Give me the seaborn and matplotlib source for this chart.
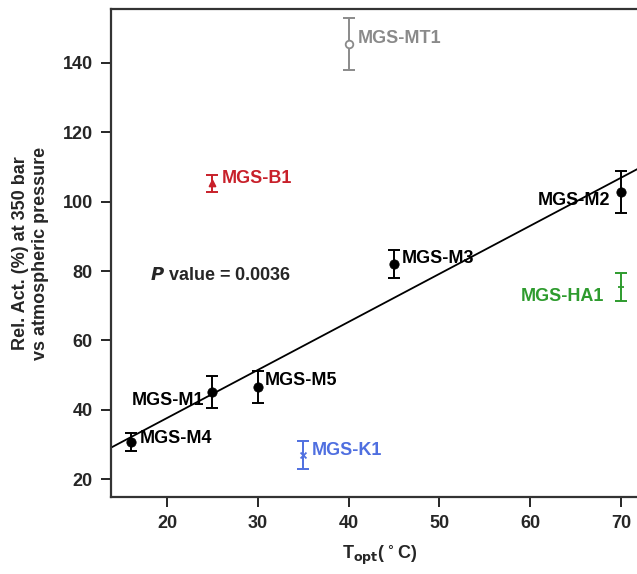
import numpy as np
import pandas as pd
import matplotlib
matplotlib.use("Agg")
import matplotlib.pyplot as plt
import seaborn as sns

# MGS enzymes: optimum temperature vs relative activity at 350 bar
names = ["MGS-M4", "MGS-M1", "MGS-M5", "MGS-M3", "MGS-M2",
         "MGS-MT1", "MGS-B1", "MGS-K1", "MGS-HA1"]
t_opt = [16, 25, 30, 45, 70, 40, 25, 35, 70]
rel_act = [30.7, 45.2, 46.6, 82.0, 102.8, 145.5, 105.3, 27.0, 75.5]
err = [2.6, 4.7, 4.6, 4.0, 6.0, 7.5, 2.5, 4.0, 4.0]
groups = ["M", "M", "M", "M", "M", "MT1", "B1", "K1", "HA1"]
p_value = "0.0036"

colors = {"M": "black", "MT1": "#8a8a8a", "B1": "#c8202a",
          "K1": "#4f6fe0", "HA1": "#2e9b2e"}
markers = {"M": "o", "MT1": "o", "B1": "^", "K1": "x", "HA1": "+"}

df = pd.DataFrame({"name": names, "t": t_opt, "act": rel_act,
                   "err": err, "grp": groups})

sns.set_style("ticks")
plt.rcParams["font.family"] = ["Liberation Sans", "DejaVu Sans"]
plt.rcParams["font.weight"] = "bold"

fig = plt.figure(figsize=(6.37, 5.74), dpi=100)
# plot box runs past the right edge of the image, as in the original crop
ax = fig.add_axes([0.1738, 0.1336, 0.845, 0.850])
ax.set_xlim(13.8, 73.1)
ax.set_ylim(14.8, 155.4)

# regression over the M series only
m = df[df.grp == "M"]
sns.regplot(data=m, x="t", y="act", ci=None, truncate=False, scatter=False,
            line_kws={"color": "black", "lw": 1.3}, ax=ax)

for g, sub in df.groupby("grp"):
    ax.errorbar(sub.t, sub.act, yerr=sub.err, fmt="none",
                ecolor=colors[g], elinewidth=1.4, capsize=4, capthick=1.4)

sns.scatterplot(data=df[df.grp == "M"], x="t", y="act", color="black",
                marker="o", s=45, edgecolor="black", ax=ax, zorder=5)
sns.scatterplot(data=df[df.grp == "MT1"], x="t", y="act", marker="o", s=30,
                facecolor="white", edgecolor=colors["MT1"], linewidth=1.3,
                ax=ax, zorder=5)
for g in ["B1", "K1", "HA1"]:
    sns.scatterplot(data=df[df.grp == g], x="t", y="act", marker=markers[g],
                    s=18, color=colors[g], edgecolor=colors[g],
                    linewidth=1.3, ax=ax, zorder=5)

# labels (x, y, horizontal alignment)
label_pos = {"MGS-M4": (17.0, 31.8, "left"), "MGS-M1": (24.1, 42.8, "right"),
             "MGS-M5": (30.8, 48.5, "left"), "MGS-M3": (45.9, 83.7, "left"),
             "MGS-M2": (68.8, 100.4, "right"), "MGS-MT1": (41.0, 147.1, "left"),
             "MGS-B1": (26.0, 106.7, "left"), "MGS-K1": (35.9, 28.4, "left"),
             "MGS-HA1": (68.2, 72.7, "right")}
for _, r in df.iterrows():
    lx, ly, ha = label_pos[r["name"]]
    ax.text(lx, ly, r["name"], ha=ha, va="center", fontsize=13,
            fontweight="bold", color=colors[r.grp])

ax.text(18.1, 78.8, r"$\bfit{P}$ value = " + p_value, ha="left",
        va="center", fontsize=13, fontweight="bold")

ax.set_xticks([20, 30, 40, 50, 60, 70])
ax.set_yticks([20, 40, 60, 80, 100, 120, 140])
ax.tick_params(labelsize=13, length=7, width=1.4, pad=6)
for lab in ax.get_xticklabels() + ax.get_yticklabels():
    lab.set_fontweight("bold")
for sp in ax.spines.values():
    sp.set_linewidth(1.6)
    sp.set_color("#333333")

ax.set_xlabel(r"T$_{\mathbf{opt}}$($^\circ$C)", fontsize=13,
              fontweight="bold", labelpad=8)
ax.set_ylabel("Rel. Act. (%) at 350 bar\nvs atmospheric pressure",
              fontsize=13, fontweight="bold", labelpad=10)

fig.savefig("out.png", dpi=100)
